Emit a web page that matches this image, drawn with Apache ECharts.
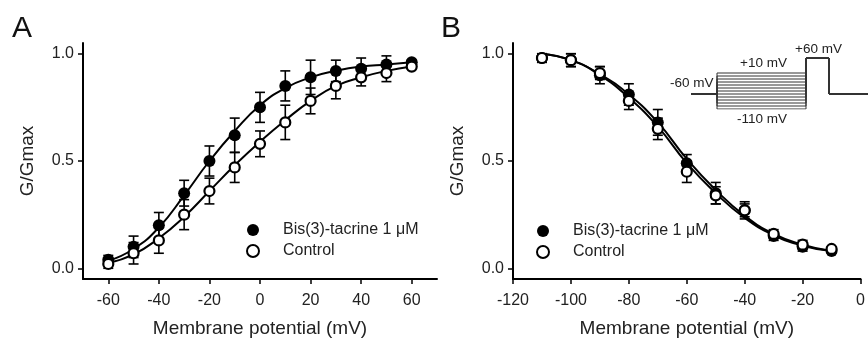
<!DOCTYPE html>
<html>
<head>
<meta charset="utf-8">
<script src="https://cdn.jsdelivr.net/npm/echarts@6/dist/echarts.min.js"></script>
<style>
  html, body {margin: 0; padding: 0; background: #fff;}
  #main {width: 868px; height: 345px;}
</style>
</head>
<body>
<div id="main"></div>
<script>
// panel A: activation
const potA = [-60, -50, -40, -30, -20, -10, 0, 10, 20, 30, 40, 50, 60];
const bisA = [0.04, 0.10, 0.20, 0.35, 0.50, 0.62, 0.75, 0.85, 0.89, 0.92, 0.93, 0.95, 0.96];
const bisAErr = [0.02, 0.05, 0.06, 0.06, 0.07, 0.08, 0.07, 0.07, 0.08, 0.05, 0.05, 0.04, 0.01];
const ctlA = [0.02, 0.07, 0.13, 0.25, 0.36, 0.47, 0.58, 0.68, 0.78, 0.85, 0.89, 0.91, 0.94];
const ctlAErr = [0.02, 0.05, 0.06, 0.07, 0.06, 0.07, 0.06, 0.08, 0.06, 0.06, 0.04, 0.04, 0.01];
const bisAFit = [0.035, 0.09, 0.19, 0.34, 0.50, 0.64, 0.76, 0.84, 0.89, 0.92, 0.94, 0.95, 0.96];
const ctlAFit = [0.025, 0.065, 0.14, 0.24, 0.36, 0.48, 0.59, 0.69, 0.78, 0.85, 0.89, 0.92, 0.94];

// panel B: inactivation
const potB = [-110, -100, -90, -80, -70, -60, -50, -40, -30, -20, -10];
const bisB = [0.98, 0.97, 0.90, 0.81, 0.68, 0.49, 0.35, 0.27, 0.15, 0.10, 0.08];
const bisBErr = [0.02, 0.03, 0.04, 0.05, 0.06, 0.04, 0.05, 0.03, 0.02, 0.02, 0.01];
const ctlB = [0.98, 0.97, 0.91, 0.78, 0.65, 0.45, 0.34, 0.27, 0.16, 0.11, 0.09];
const ctlBErr = [0.02, 0.03, 0.03, 0.04, 0.05, 0.05, 0.04, 0.04, 0.02, 0.02, 0.01];
const bisBFit = [1.0, 0.97, 0.905, 0.81, 0.68, 0.51, 0.365, 0.245, 0.16, 0.11, 0.08];
const ctlBFit = [1.0, 0.97, 0.90, 0.795, 0.66, 0.49, 0.35, 0.235, 0.155, 0.105, 0.08];

// inset: voltage protocol (time in ms, voltage in mV)
const stepLevels = [-110, -100, -90, -80, -70, -60, -50, -40, -30, -20, -10, 0, 10];
const protoTimes = [0, 26, 115, 138, 177];
const holding = -60;
const prepulse = 60;

const xTicksA = [-60, -40, -20, 0, 20, 40, 60];
const xTicksB = [-120, -100, -80, -60, -40, -20, 0];
const yTicks = [0, 0.5, 1.0];

const nameBis = 'Bis(3)-tacrine 1 μM';
const nameCtl = 'Control';
const FONT = '"Liberation Sans", Arial, sans-serif';

const zip = (xs, ys) => xs.map((x, i) => [x, ys[i]]);
const errData = (xs, ys, es) => xs.map((x, i) => [x, ys[i] - es[i], ys[i] + es[i]]);

function xAxis(idx, min, max, ticks) {
  return {
    type: 'value', gridIndex: idx, min, max,
    name: 'Membrane potential (mV)', nameLocation: 'middle', nameGap: 40,
    nameTextStyle: {fontSize: 19, color: '#222', fontFamily: FONT},
    axisLine: {onZero: false, lineStyle: {color: '#000', width: 2}},
    axisTick: {customValues: ticks, length: 5, lineStyle: {color: '#000', width: 1.5}},
    axisLabel: {customValues: ticks, fontSize: 16, color: '#222', margin: 14, fontFamily: FONT},
    splitLine: {show: false}
  };
}
function yAxis(idx) {
  return {
    type: 'value', gridIndex: idx, min: -0.05, max: 1.05,
    name: 'G/Gmax', nameLocation: 'middle', nameGap: 46,
    nameTextStyle: {fontSize: 19, color: '#222', fontFamily: FONT},
    axisLine: {show: true, onZero: false, lineStyle: {color: '#000', width: 2}},
    axisTick: {show: true, customValues: yTicks, length: 5, lineStyle: {color: '#000', width: 1.5}},
    axisLabel: {customValues: yTicks, fontSize: 16, color: '#222', margin: 9, fontFamily: FONT,
      formatter: v => v.toFixed(1)},
    splitLine: {show: false}
  };
}

function errSeries(xi, data) {
  return {
    type: 'custom', xAxisIndex: xi, yAxisIndex: xi, z: 2, silent: true,
    data,
    renderItem(params, api) {
      const x = api.value(0);
      const lo = api.coord([x, api.value(1)]);
      const hi = api.coord([x, api.value(2)]);
      const st = {stroke: '#000', lineWidth: 1.6};
      return {
        type: 'group', children: [
          {type: 'line', shape: {x1: lo[0], y1: lo[1], x2: hi[0], y2: hi[1]}, style: st},
          {type: 'line', shape: {x1: lo[0] - 5, y1: lo[1], x2: lo[0] + 5, y2: lo[1]}, style: st},
          {type: 'line', shape: {x1: hi[0] - 5, y1: hi[1], x2: hi[0] + 5, y2: hi[1]}, style: st}
        ]
      };
    }
  };
}
function fitSeries(xi, data) {
  return {
    type: 'line', xAxisIndex: xi, yAxisIndex: xi, z: 3, silent: true,
    data, smooth: 0.5, showSymbol: false, symbol: 'none',
    lineStyle: {color: '#000', width: 2}
  };
}
function pointSeries(xi, name, data, open) {
  return {
    type: 'scatter', name, xAxisIndex: xi, yAxisIndex: xi, z: 5,
    data, symbol: 'circle', symbolSize: open ? 10 : 12,
    itemStyle: open
      ? {color: '#fff', borderColor: '#000', borderWidth: 2.2, opacity: 1}
      : {color: '#000', opacity: 1}
  };
}
function legend(left, top) {
  return {
    data: [nameBis, nameCtl], orient: 'vertical', left, top,
    itemWidth: 50, itemHeight: 12, itemGap: 5, selectedMode: false,
    textStyle: {fontSize: 16, color: '#222', fontFamily: FONT}
  };
}

const sweeps = stepLevels.map(v => ({
  type: 'line', xAxisIndex: 2, yAxisIndex: 2, silent: true, symbol: 'none',
  data: [
    [protoTimes[0], holding], [protoTimes[1], holding], [protoTimes[1], v],
    [protoTimes[2], v], [protoTimes[2], prepulse], [protoTimes[3], prepulse],
    [protoTimes[3], holding], [protoTimes[4], holding]
  ],
  lineStyle: {color: '#333', width: 1}
}));

const insetText = (text, left, top) => ({
  type: 'text', left, top, style: {text, fill: '#222', font: '13.5px ' + FONT}
});

const chart = echarts.init(document.getElementById('main'));
chart.setOption({
  animation: false,
  backgroundColor: '#fff',
  textStyle: {fontFamily: FONT},
  title: [
    {text: 'A', left: 7, top: 9, textStyle: {fontSize: 30, fontWeight: 'normal', color: '#111', fontFamily: FONT}},
    {text: 'B', left: 436, top: 9, textStyle: {fontSize: 30, fontWeight: 'normal', color: '#111', fontFamily: FONT}}
  ],
  grid: [
    {left: 83, top: 43, width: 354, height: 236},
    {left: 513, top: 43, width: 354, height: 236},
    {left: 691, top: 58, width: 177, height: 51}
  ],
  legend: [legend(241, 217), legend(531, 218)],
  xAxis: [
    xAxis(0, -70, 70, xTicksA),
    xAxis(1, -120, 0, xTicksB),
    {type: 'value', gridIndex: 2, min: protoTimes[0], max: protoTimes[4], show: false}
  ],
  yAxis: [
    yAxis(0),
    yAxis(1),
    {type: 'value', gridIndex: 2, min: -110, max: 60, show: false}
  ],
  graphic: [
    insetText('-60 mV', 670, 76),
    insetText('+10 mV', 740, 56),
    insetText('-110 mV', 737, 112),
    insetText('+60 mV', 795, 42)
  ],
  series: [
    fitSeries(0, zip(potA, ctlAFit)),
    fitSeries(0, zip(potA, bisAFit)),
    errSeries(0, errData(potA, ctlA, ctlAErr)),
    errSeries(0, errData(potA, bisA, bisAErr)),
    pointSeries(0, nameBis, zip(potA, bisA), false),
    pointSeries(0, nameCtl, zip(potA, ctlA), true),

    fitSeries(1, zip(potB, bisBFit)),
    fitSeries(1, zip(potB, ctlBFit)),
    errSeries(1, errData(potB, bisB, bisBErr)),
    errSeries(1, errData(potB, ctlB, ctlBErr)),
    pointSeries(1, nameBis, zip(potB, bisB), false),
    pointSeries(1, nameCtl, zip(potB, ctlB), true),

    ...sweeps
  ]
});
</script>
</body>
</html>
